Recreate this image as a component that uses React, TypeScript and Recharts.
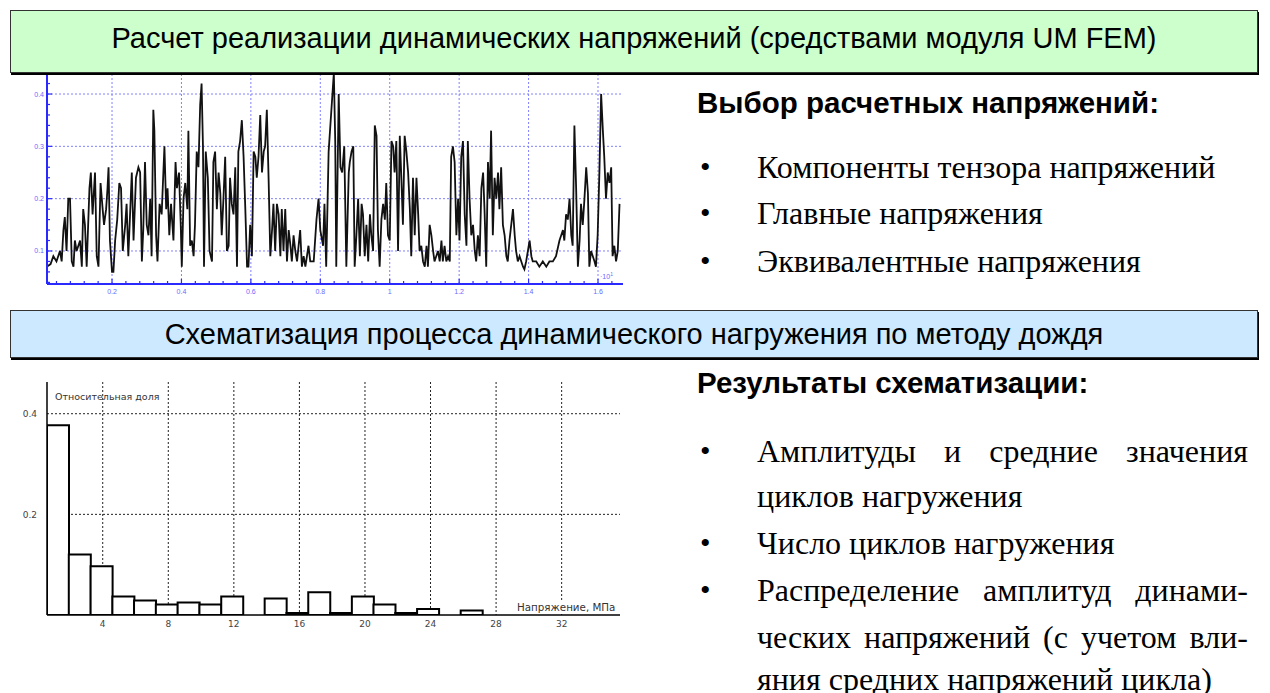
import React from "react";
import { LineChart, Line, BarChart, Bar, XAxis, YAxis, CartesianGrid } from "recharts";

// stress history: [time, stress]
const stressTrace: [number, number][] = [
  [0.014, 0.071], [0.023, 0.075], [0.031, 0.09], [0.04, 0.08], [0.05, 0.1], [0.055, 0.08],
  [0.06, 0.14], [0.064, 0.165], [0.069, 0.1], [0.074, 0.2], [0.079, 0.2], [0.084, 0.08],
  [0.089, 0.07], [0.093, 0.12], [0.098, 0.1], [0.108, 0.12], [0.113, 0.07], [0.117, 0.18],
  [0.122, 0.15], [0.127, 0.07], [0.135, 0.22], [0.139, 0.25], [0.144, 0.17], [0.151, 0.25],
  [0.156, 0.09], [0.161, 0.07], [0.167, 0.23], [0.173, 0.18], [0.177, 0.15], [0.183, 0.18],
  [0.187, 0.22], [0.19, 0.26], [0.194, 0.12], [0.2, 0.06], [0.204, 0.06], [0.209, 0.12],
  [0.215, 0.16], [0.221, 0.23], [0.226, 0.22], [0.231, 0.1], [0.238, 0.15], [0.242, 0.19],
  [0.247, 0.09], [0.252, 0.17], [0.257, 0.25], [0.262, 0.12], [0.269, 0.24], [0.276, 0.26],
  [0.281, 0.25], [0.286, 0.08], [0.29, 0.14], [0.295, 0.27], [0.3, 0.15], [0.305, 0.13],
  [0.31, 0.2], [0.314, 0.09], [0.319, 0.37], [0.322, 0.33], [0.327, 0.13], [0.331, 0.08],
  [0.337, 0.19], [0.343, 0.17], [0.351, 0.3], [0.356, 0.18], [0.36, 0.22], [0.365, 0.13],
  [0.37, 0.19], [0.377, 0.12], [0.383, 0.27], [0.387, 0.22], [0.393, 0.25], [0.398, 0.15],
  [0.401, 0.07], [0.406, 0.2], [0.411, 0.23], [0.417, 0.18], [0.42, 0.33], [0.425, 0.11],
  [0.43, 0.12], [0.435, 0.09], [0.439, 0.15], [0.444, 0.29], [0.449, 0.26], [0.454, 0.38],
  [0.458, 0.42], [0.462, 0.3], [0.465, 0.07], [0.47, 0.29], [0.476, 0.24], [0.481, 0.1],
  [0.488, 0.08], [0.492, 0.27], [0.497, 0.29], [0.502, 0.18], [0.507, 0.25], [0.512, 0.21],
  [0.516, 0.13], [0.521, 0.2], [0.526, 0.28], [0.531, 0.1], [0.536, 0.11], [0.54, 0.24],
  [0.545, 0.19], [0.55, 0.17], [0.555, 0.26], [0.56, 0.07], [0.564, 0.29], [0.569, 0.31],
  [0.574, 0.35], [0.579, 0.28], [0.584, 0.18], [0.589, 0.07], [0.593, 0.07], [0.598, 0.15],
  [0.603, 0.09], [0.608, 0.29], [0.613, 0.28], [0.617, 0.24], [0.622, 0.28], [0.627, 0.36],
  [0.632, 0.25], [0.637, 0.29], [0.641, 0.3], [0.646, 0.37], [0.651, 0.24], [0.656, 0.09],
  [0.661, 0.14], [0.665, 0.19], [0.67, 0.1], [0.675, 0.19], [0.68, 0.17], [0.685, 0.09],
  [0.689, 0.18], [0.694, 0.1], [0.699, 0.18], [0.704, 0.08], [0.709, 0.14], [0.714, 0.11],
  [0.718, 0.08], [0.723, 0.13], [0.728, 0.1], [0.733, 0.08], [0.742, 0.14], [0.747, 0.07],
  [0.752, 0.09], [0.757, 0.07], [0.766, 0.11], [0.771, 0.08], [0.781, 0.08], [0.789, 0.16],
  [0.795, 0.2], [0.8, 0.14], [0.808, 0.11], [0.812, 0.19], [0.817, 0.07], [0.824, 0.29],
  [0.829, 0.34], [0.834, 0.39], [0.839, 0.44], [0.843, 0.31], [0.846, 0.07], [0.853, 0.4],
  [0.858, 0.26], [0.863, 0.25], [0.869, 0.3], [0.875, 0.07], [0.882, 0.25], [0.885, 0.27],
  [0.89, 0.29], [0.895, 0.3], [0.899, 0.07], [0.904, 0.13], [0.909, 0.2], [0.914, 0.09],
  [0.919, 0.19], [0.923, 0.17], [0.928, 0.09], [0.933, 0.15], [0.938, 0.08], [0.943, 0.17],
  [0.947, 0.13], [0.952, 0.1], [0.957, 0.34], [0.962, 0.32], [0.966, 0.14], [0.971, 0.07],
  [0.976, 0.16], [0.981, 0.19], [0.986, 0.16], [0.99, 0.23], [0.995, 0.13], [1.0, 0.12],
  [1.005, 0.31], [1.01, 0.3], [1.014, 0.25], [1.019, 0.31], [1.024, 0.1], [1.029, 0.32],
  [1.034, 0.23], [1.038, 0.15], [1.043, 0.32], [1.048, 0.29], [1.053, 0.25], [1.058, 0.18],
  [1.062, 0.09], [1.067, 0.24], [1.072, 0.13], [1.077, 0.24], [1.082, 0.17], [1.086, 0.1],
  [1.091, 0.11], [1.096, 0.08], [1.101, 0.07], [1.106, 0.11], [1.11, 0.07], [1.115, 0.15],
  [1.12, 0.13], [1.125, 0.1], [1.129, 0.08], [1.134, 0.09], [1.139, 0.1], [1.144, 0.08],
  [1.149, 0.12], [1.153, 0.08], [1.158, 0.11], [1.163, 0.08], [1.168, 0.09], [1.173, 0.08],
  [1.177, 0.28], [1.182, 0.3], [1.187, 0.27], [1.192, 0.13], [1.197, 0.2], [1.201, 0.12],
  [1.206, 0.28], [1.211, 0.31], [1.216, 0.17], [1.221, 0.11], [1.225, 0.31], [1.23, 0.2],
  [1.235, 0.13], [1.24, 0.15], [1.245, 0.1], [1.249, 0.08], [1.254, 0.13], [1.259, 0.09],
  [1.264, 0.22], [1.269, 0.25], [1.273, 0.18], [1.278, 0.07], [1.283, 0.27], [1.288, 0.2],
  [1.292, 0.33], [1.297, 0.13], [1.302, 0.24], [1.307, 0.2], [1.312, 0.25], [1.316, 0.18],
  [1.321, 0.26], [1.326, 0.15], [1.331, 0.13], [1.336, 0.09], [1.34, 0.08], [1.345, 0.12],
  [1.35, 0.15], [1.355, 0.18], [1.36, 0.13], [1.364, 0.1], [1.369, 0.08], [1.374, 0.09],
  [1.379, 0.08], [1.384, 0.07], [1.388, 0.065], [1.393, 0.08], [1.398, 0.1], [1.403, 0.12],
  [1.408, 0.09], [1.412, 0.08], [1.422, 0.08], [1.431, 0.07], [1.441, 0.08], [1.451, 0.07],
  [1.46, 0.08], [1.47, 0.08], [1.479, 0.09], [1.489, 0.12], [1.494, 0.13], [1.499, 0.14],
  [1.503, 0.12], [1.508, 0.17], [1.513, 0.16], [1.518, 0.2], [1.523, 0.13], [1.527, 0.11],
  [1.532, 0.34], [1.537, 0.22], [1.542, 0.07], [1.547, 0.12], [1.551, 0.19], [1.556, 0.15],
  [1.561, 0.2], [1.566, 0.26], [1.571, 0.21], [1.575, 0.07], [1.58, 0.1], [1.585, 0.09],
  [1.59, 0.08], [1.594, 0.07], [1.599, 0.13], [1.604, 0.25], [1.609, 0.4], [1.614, 0.33],
  [1.618, 0.28], [1.623, 0.2], [1.628, 0.25], [1.633, 0.23], [1.638, 0.26], [1.642, 0.09],
  [1.647, 0.11], [1.652, 0.08], [1.657, 0.1], [1.662, 0.19],
];

const topXMajor = [0.2, 0.4, 0.6, 0.8, 1, 1.2, 1.4, 1.6];
const topYMajor = [0.1, 0.2, 0.3, 0.4];
const topXMinor = Array.from({ length: 41 }, (_, i) => Math.round((i + 1) * 4) / 100);
const topYMinor = Array.from({ length: 21 }, (_, i) => Math.round((i + 2) * 2) / 100);

// rainflow histogram: bin centres (MPa) and relative share
const binCenters = [1.26, 2.59, 3.92, 5.25, 6.57, 7.9, 9.23, 10.56, 11.89, 13.21, 14.54, 15.87, 17.2, 18.53, 19.86, 21.18, 22.51, 23.84, 25.17, 26.5];
const binShare = [0.377, 0.12, 0.097, 0.037, 0.029, 0.021, 0.025, 0.021, 0.037, 0, 0.033, 0.004, 0.045, 0.004, 0.037, 0.021, 0.004, 0.012, 0, 0.009];
const histXTicks = [4, 8, 12, 16, 20, 24, 28, 32];
const histYTicks = [0.2, 0.4];

const BLUE = "#2a2aff";
const BLUE_TEXT = "#6a6aff";
const GRID_BLUE = "#8080ff";

const isMajor = (list: number[], v: number) => list.some((m) => Math.abs(m - v) < 1e-6);

const TopXTick = (props: any) => {
  const { x, y, payload } = props;
  const major = isMajor(topXMajor, payload.value);
  return (
    <g>
      <line x1={x} x2={x} y1={y} y2={y - (major ? 5 : 3)} stroke={BLUE} strokeWidth={1.2} />
      {major && (
        <text x={x} y={y + 10} textAnchor="middle" fontSize={7} fill={BLUE_TEXT} fontFamily="Arial">
          {payload.value}
        </text>
      )}
    </g>
  );
};

const TopYTick = (props: any) => {
  const { x, y, payload } = props;
  const major = isMajor(topYMajor, payload.value);
  return (
    <g>
      <line x1={x} x2={x + (major ? 5 : 3)} y1={y} y2={y} stroke={BLUE} strokeWidth={1.2} />
      {major && (
        <text x={x - 3} y={y + 2.5} textAnchor="end" fontSize={7} fill={BLUE_TEXT} fontFamily="Arial">
          {payload.value}
        </text>
      )}
    </g>
  );
};

const serif = '"Liberation Serif", "Times New Roman", serif';
const sans = '"Liberation Sans", Arial, sans-serif';

const Header = ({ top, height, bg, text, shift }: { top: number; height: number; bg: string; text: string; shift: number }) => (
  <div
    style={{
      position: "absolute",
      left: 10,
      top,
      width: 1246,
      height,
      background: bg,
      border: "1px solid #333",
      boxShadow: "1px 2px 0 #000",
      fontFamily: sans,
      fontSize: 29,
      lineHeight: height - shift + "px",
      textAlign: "center",
      color: "#000",
      zIndex: 5,
    }}
  >
    {text}
  </div>
);

const lineStyle = (top: number): React.CSSProperties => ({
  position: "absolute",
  left: 757,
  top,
  width: 491,
  fontFamily: serif,
  fontSize: 32,
  lineHeight: "46px",
  whiteSpace: "nowrap",
});

const Bullet = ({ top }: { top: number }) => (
  <div style={{ position: "absolute", left: 700, top, fontFamily: serif, fontSize: 30, lineHeight: "46px" }}>•</div>
);

const Justified = ({ top, text }: { top: number; text: string }) => (
  <div style={{ ...lineStyle(top), textAlign: "justify", textAlignLast: "justify" }}>{text}</div>
);

const headingStyle = (top: number): React.CSSProperties => ({
  position: "absolute",
  left: 697,
  top,
  fontFamily: sans,
  fontWeight: "bold",
  fontSize: 29.5,
  lineHeight: "32px",
  whiteSpace: "nowrap",
});

export default function App() {
  const traceData = stressTrace.map(([t, s]) => ({ t, s }));
  const histData = binCenters.map((c, i) => ({ c, share: binShare[i] }));

  return (
    <div style={{ position: "absolute", left: 0, top: 0, width: 1270, height: 693, background: "#fff", overflow: "hidden" }}>
      <Header top={10} height={61} bg="#ccffcc" shift={7} text="Расчет реализации динамических напряжений (средствами модуля UM FEM)" />
      <Header top={310} height={46} bg="#cce9ff" shift={0} text="Схематизация процесса динамического нагружения по методу дождя" />

      <div style={{ position: "absolute", left: 0, top: 60 }}>
        <LineChart width={640} height={240} data={traceData} margin={{ top: 10, right: 17, bottom: 2, left: 17 }}>
          <CartesianGrid stroke={GRID_BLUE} strokeDasharray="2 2" horizontalValues={topYMajor} verticalValues={topXMajor} />
          <XAxis
            dataKey="t"
            type="number"
            domain={[0.0127, 1.672]}
            allowDataOverflow
            ticks={topXMinor}
            interval={0}
            height={14}
            tickSize={0}
            tickMargin={0}
            tickLine={false}
            axisLine={{ stroke: BLUE, strokeWidth: 2 }}
            tick={<TopXTick />}
          />
          <YAxis
            type="number"
            domain={[0.0369, 0.4459]}
            allowDataOverflow
            ticks={topYMinor}
            interval={0}
            width={30}
            tickSize={0}
            tickMargin={0}
            tickLine={false}
            axisLine={{ stroke: BLUE, strokeWidth: 2 }}
            tick={<TopYTick />}
          />
          <YAxis yAxisId="r" orientation="right" width={0} tick={false} tickLine={false} axisLine={{ stroke: BLUE, strokeWidth: 2 }} />
          <Line dataKey="s" type="linear" stroke="#111" strokeWidth={1.8} dot={false} isAnimationActive={false} />
        </LineChart>
      </div>
      <div style={{ position: "absolute", left: 600, top: 271, fontFamily: sans, fontSize: 7, color: BLUE_TEXT }}>
        ·10<sup style={{ fontSize: 5 }}>1</sup>
      </div>

      <div style={{ position: "absolute", left: 0, top: 372 }}>
        <BarChart width={640} height={260} data={histData} barCategoryGap={0} margin={{ top: 10, right: 20, bottom: 2, left: 17 }}>
          <CartesianGrid stroke="#222" strokeDasharray="2 2" horizontalValues={histYTicks} verticalValues={histXTicks} />
          <XAxis
            dataKey="c"
            type="number"
            domain={[0.6, 35.56]}
            allowDataOverflow
            ticks={histXTicks}
            interval={0}
            height={15}
            tickLine={false}
            tickMargin={0}
            axisLine={{ stroke: "#000", strokeWidth: 1.5 }}
            tick={{ fontSize: 9, fill: "#444", fontFamily: "DejaVu Sans" }}
          />
          <XAxis xAxisId="top" orientation="top" height={0} tick={false} tickLine={false} axisLine={{ stroke: "#555", strokeWidth: 1.5 }} />
          <YAxis
            type="number"
            domain={[0, 0.463]}
            allowDataOverflow
            ticks={histYTicks}
            interval={0}
            width={30}
            tickLine={false}
            tickMargin={4}
            axisLine={{ stroke: "#000", strokeWidth: 1.5 }}
            tick={{ fontSize: 9, fill: "#444", fontFamily: "DejaVu Sans" }}
          />
          <YAxis yAxisId="r" orientation="right" width={0} tick={false} tickLine={false} axisLine={{ stroke: "#555", strokeWidth: 1.5 }} />
          <Bar dataKey="share" fill="#fff" stroke="#000" strokeWidth={2} isAnimationActive={false} />
        </BarChart>
      </div>
      <div style={{ position: "absolute", left: 55, top: 391, fontFamily: "DejaVu Sans", fontSize: 9.5, color: "#333" }}>
        Относительная доля
      </div>
      <div style={{ position: "absolute", left: 517, top: 601, fontFamily: "DejaVu Sans", fontSize: 10.3, color: "#333", background: "#fff" }}>
        Напряжение, МПа
      </div>

      <div style={headingStyle(87)}>Выбор расчетных напряжений:</div>
      <Bullet top={144} />
      <div style={lineStyle(144)}>Компоненты тензора напряжений</div>
      <Bullet top={190} />
      <div style={lineStyle(190)}>Главные напряжения</div>
      <Bullet top={238} />
      <div style={lineStyle(238)}>Эквивалентные напряжения</div>

      <div style={headingStyle(367)}>Результаты схематизации:</div>
      <Bullet top={428} />
      <Justified top={428} text="Амплитуды и средние значения" />
      <div style={lineStyle(473)}>циклов нагружения</div>
      <Bullet top={520} />
      <div style={lineStyle(520)}>Число циклов нагружения</div>
      <Bullet top={567} />
      <Justified top={567} text="Распределение амплитуд динами-" />
      <Justified top={614} text="ческих напряжений (с учетом вли-" />
      <div style={lineStyle(656)}>яния средних напряжений цикла)</div>
    </div>
  );
}
